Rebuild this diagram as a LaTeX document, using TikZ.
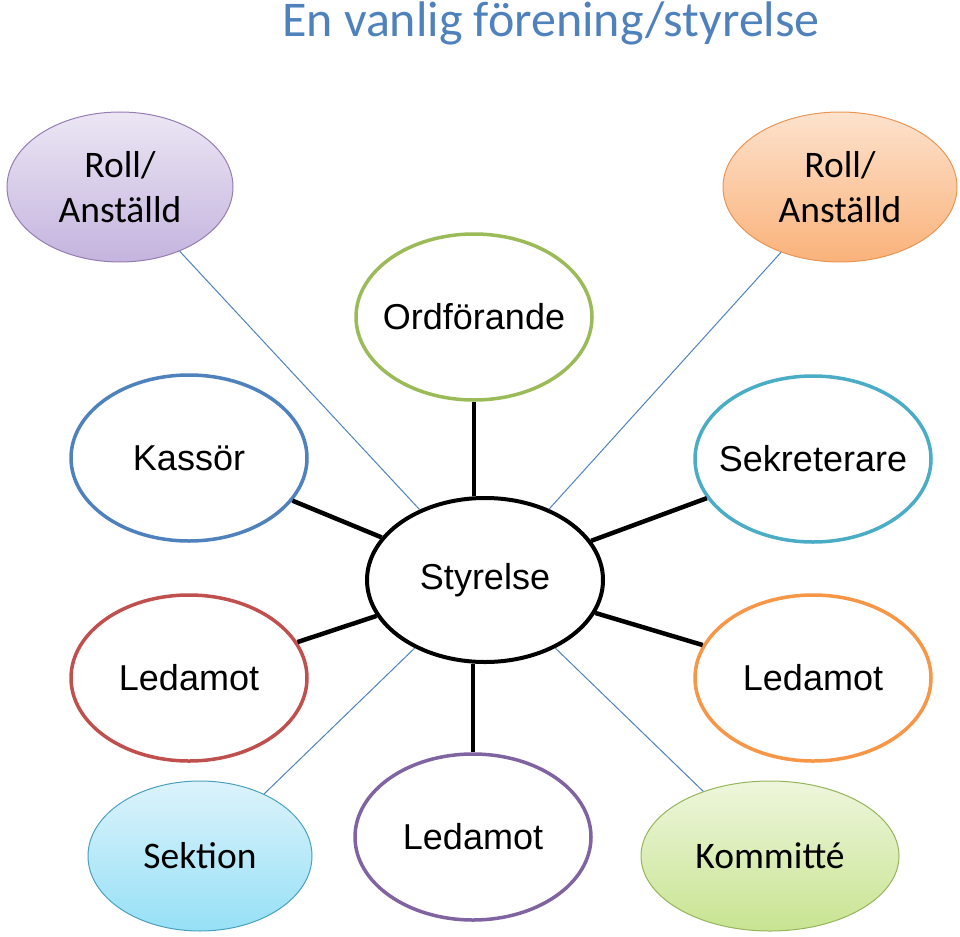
\documentclass[tikz,border=0pt]{standalone}
\usepackage{fontspec}
\setmainfont{Liberation Sans}
\newfontfamily\calfont{Carlito}
\usetikzlibrary{shapes.geometric}
\definecolor{titleblue}{RGB}{79,129,189}
\definecolor{cblue}{RGB}{79,129,189}
\definecolor{cgreen}{RGB}{155,187,89}
\definecolor{cteal}{RGB}{75,172,198}
\definecolor{cred}{RGB}{192,80,77}
\definecolor{corange}{RGB}{247,150,70}
\definecolor{cpurple}{RGB}{128,100,162}
\definecolor{thinline}{RGB}{79,129,189}
\tikzset{
  bub/.style={ellipse, inner sep=0pt, line width=3.5pt, fill=white, font=\fontsize{36}{40}\selectfont, align=center, minimum width=236pt, minimum height=166pt},
  gbub/.style={ellipse, inner sep=0pt, line width=1pt, font=\calfont\fontsize{37.5}{45}\selectfont, align=center, shading=axis},
  thickc/.style={line width=4.5pt, black},
  thinc/.style={line width=1pt, thinline}
}
\begin{document}
\begin{tikzpicture}[x=1pt,y=-1pt]
\useasboundingbox (0,0) rectangle (960,936);
\node[font=\calfont\fontsize{50}{56}\selectfont, text=titleblue] (title) at (551,23) {En vanlig förening/styrelse};
% gradient ellipses
\node[gbub, draw={rgb,255:red,150;green,125;blue,180}, top color={rgb,255:red,236;green,230;blue,244}, bottom color={rgb,255:red,196;green,180;blue,222}, minimum width=226pt, minimum height=150pt] (roll1) at (120,187) {Roll/\\Anställd};
\node[gbub, draw={rgb,255:red,232;green,150;blue,85}, top color={rgb,255:red,253;green,226;blue,205}, bottom color={rgb,255:red,250;green,178;blue,122}, minimum width=234pt, minimum height=150pt] (roll2) at (840,187) {Roll/\\Anställd};
\node[gbub, draw={rgb,255:red,75;green,160;blue,190}, top color={rgb,255:red,220;green,243;blue,251}, bottom color={rgb,255:red,150;green,224;blue,246}, minimum width=224pt, minimum height=150pt] (sek) at (200,856) {Sektion};
\node[gbub, draw={rgb,255:red,150;green,180;blue,90}, top color={rgb,255:red,238;green,246;blue,220}, bottom color={rgb,255:red,200;green,228;blue,145}, minimum width=258pt, minimum height=150pt] (kom) at (770,856) {\makebox[0pt]{Kommitté}};
% white ellipses
\node[bub, draw=cgreen, minimum width=236pt, minimum height=166pt] (ord) at (474,317) {\makebox[0pt]{Ordförande}};
\node[bub, draw=cblue] (kas) at (189,458) {Kassör};
\node[bub, draw=cteal] (sekr) at (813,459) {\makebox[0pt]{Sekreterare}};
\node[bub, draw=black, line width=4pt, minimum width=236pt, minimum height=164pt] (sty) at (485,580) {\makebox[0pt]{Styrelse}};
\node[bub, draw=cred] (led1) at (189,678) {Ledamot};
\node[bub, draw=corange] (led2) at (813,678) {Ledamot};
\node[bub, draw=cpurple] (led3) at (473,837) {Ledamot};
% connectors
\draw[thinc] (sty) -- (roll1);
\draw[thinc] (sty) -- (roll2);
\draw[thinc] (sty) -- (sek);
\draw[thinc] (sty) -- (kom);
\draw[thickc] (ord.south) -- (ord.south |- sty.north);
\draw[thickc] (sty) -- (kas);
\draw[thickc] (sty) -- (sekr);
\draw[thickc] (sty) -- (led1);
\draw[thickc] (sty) -- (led2);
\draw[thickc] (led3.north) -- (led3.north |- sty.south);
\end{tikzpicture}
\end{document}
